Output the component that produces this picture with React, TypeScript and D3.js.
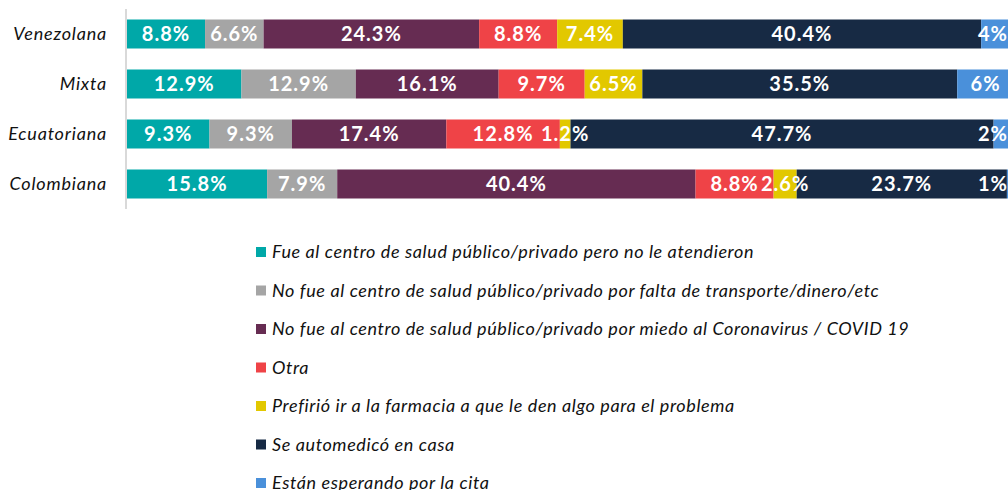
import React, { useEffect, useRef } from 'react';
import * as d3 from 'd3';

const categories = ['Venezolana', 'Mixta', 'Ecuatoriana', 'Colombiana'];
const seriesNames = [
  'Fue al centro de salud público/privado pero no le atendieron',
  'No fue al centro de salud público/privado por falta de transporte/dinero/etc',
  'No fue al centro de salud público/privado por miedo al Coronavirus / COVID 19',
  'Otra',
  'Prefirió ir a la farmacia a que le den algo para el problema',
  'Se automedicó en casa',
  'Están esperando por la cita',
];
const colors = ['#00A8A8', '#A5A5A5', '#662C52', '#EF4347', '#E2C800', '#172A44', '#4A90DA'];

// values per category, in series order
const fueAtendieron = [8.8, 12.9, 9.3, 15.8];
const faltaTransporte = [6.6, 12.9, 9.3, 7.9];
const miedoCovid = [24.3, 16.1, 17.4, 40.4];
const otra = [8.8, 9.7, 12.8, 8.8];
const farmacia = [7.4, 6.5, 1.2, 2.6];
const automedico = [40.4, 35.5, 47.7, 23.7];
const esperando = [3.7, 6.4, 2.3, 0.8];
const seriesValues = [fueAtendieron, faltaTransporte, miedoCovid, otra, farmacia, automedico, esperando];
// labels of the last series are shown rounded
const labelDigits = [1, 1, 1, 1, 1, 1, 0];

const W = 1008, H = 490;
const FONT = 'Lato, sans-serif';

export default function App() {
  const ref = useRef<SVGSVGElement>(null);
  useEffect(() => {
    const svg = d3.select(ref.current);
    svg.selectAll('*').remove();

    const rows = categories.map((c, i) => {
      const r: any = { cat: c };
      seriesValues.forEach((s, k) => (r[k] = s[i]));
      return r;
    });
    const keys = seriesValues.map((_, k) => String(k));
    const stacked = d3.stack<any>().keys(keys)(rows);

    const x = d3.scaleLinear().domain([0, 100]).range([127, 1014]);
    const y = d3.scaleBand().domain(categories).range([9, 209]).paddingInner(0.42).paddingOuter(0.21);

    stacked.forEach((layer, k) => {
      svg.append('g').selectAll('rect').data(layer).join('rect')
        .attr('x', d => x(d[0]))
        .attr('y', d => y(d.data.cat)!)
        .attr('width', d => x(d[1]) - x(d[0]))
        .attr('height', y.bandwidth())
        .attr('fill', colors[k]);
    });
    stacked.forEach((layer, k) => {
      svg.append('g').selectAll('text').data(layer).join('text')
        // labels stay inside the visible plot area, like the reference
        .attr('x', d => Math.min((x(d[0]) + x(d[1])) / 2, W - 15))
        .attr('y', d => y(d.data.cat)! + y.bandwidth() / 2)
        .attr('dy', '0.36em')
        .attr('text-anchor', 'middle')
        .attr('fill', '#fff')
        .attr('font-family', FONT)
        .attr('font-weight', 700)
        .attr('font-size', 20)
        .attr('letter-spacing', 1)
        .text(d => (d[1] - d[0]).toFixed(labelDigits[k]) + '%');
    });

    const ax = svg.append('g').attr('transform', 'translate(126,0)')
      .call(d3.axisLeft(y).tickSize(0).tickPadding(19));
    ax.select('.domain').attr('stroke', '#D9D9D9').attr('stroke-width', 2).attr('d', 'M0,9V209');
    ax.selectAll('text').attr('fill', '#111').attr('font-family', FONT)
      .attr('font-style', 'italic').attr('font-size', 18).attr('letter-spacing', 0.8);

    const ly = d3.scalePoint().domain(seriesNames).range([252, 483]);
    const leg = svg.append('g').selectAll('g').data(seriesNames).join('g')
      .attr('transform', d => `translate(256,${ly(d)})`);
    leg.append('rect').attr('x', 0).attr('y', -5).attr('width', 10).attr('height', 10)
      .attr('fill', (_, i) => colors[i]);
    leg.append('text').attr('x', 16).attr('dy', '0.35em').attr('fill', '#111')
      .attr('font-family', FONT).attr('font-style', 'italic').attr('font-size', 18)
      .attr('letter-spacing', 0.6)
      .text(d => d);
  }, []);
  return (
    <svg ref={ref} width={W} height={H}
      style={{ position: 'absolute', left: 0, top: 0, background: '#fff' }} />
  );
}
